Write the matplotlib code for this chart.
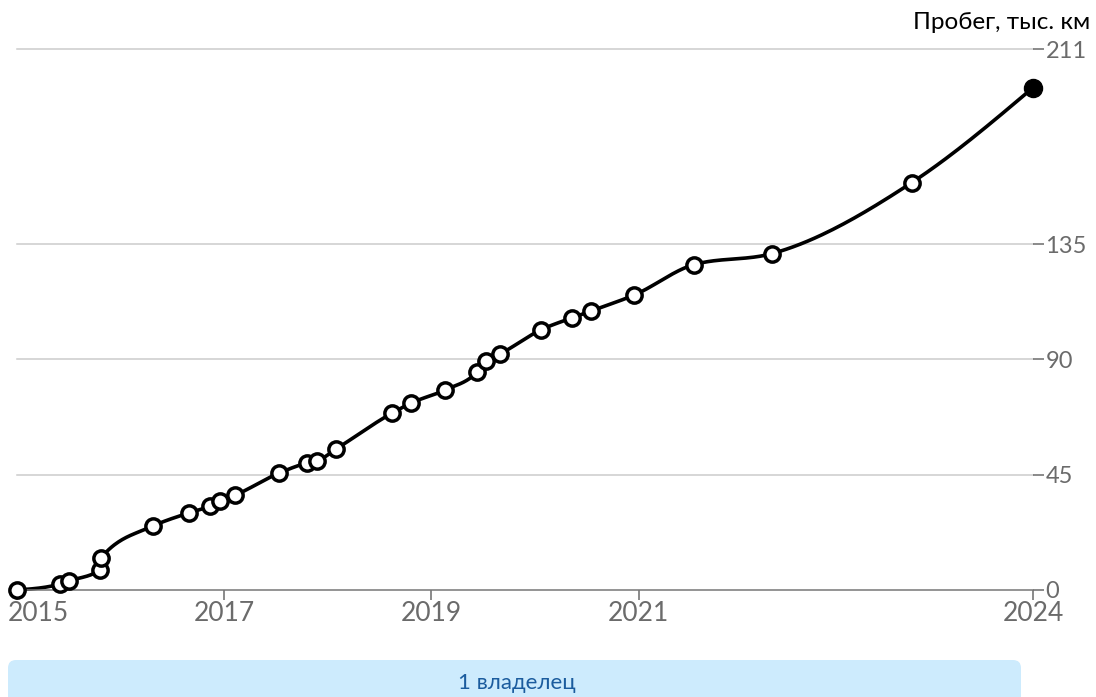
import matplotlib.pyplot as plt
import matplotlib.dates as mdates
import numpy as np
from matplotlib.patches import FancyBboxPatch
from matplotlib.transforms import IdentityTransform, ScaledTranslation

FONT = ['Lato', 'DejaVu Sans']

# mileage history, thousand km
dates = ['2015-01-01', '2015-06-01', '2015-07-02', '2015-10-20', '2015-10-24',
         '2016-04-25', '2016-08-29', '2016-11-12', '2016-12-17', '2017-02-09',
         '2017-07-14', '2017-10-21', '2017-11-25', '2018-01-31', '2018-08-16',
         '2018-10-22', '2019-02-19', '2019-06-12', '2019-07-14', '2019-09-01',
         '2020-01-23', '2020-05-12', '2020-07-18', '2020-12-17', '2021-07-14',
         '2022-04-15', '2023-08-21', '2024-10-22']
mileage = [0.0, 2.3, 3.5, 7.8, 12.5,
           25.0, 30.1, 32.8, 34.8, 37.1,
           45.7, 49.6, 50.4, 55.1, 69.1,
           73.0, 78.1, 85.2, 89.5, 92.2,
           101.6, 106.3, 109.0, 115.2, 127.0,
           131.3, 159.0, 196.1]

y_ticks = [0, 45, 90, 135, 211]
x_tick_dates = ['2015-01-01', '2017-01-01', '2019-01-01', '2021-01-01', '2024-10-22']
x_tick_labels = ['2015', '2017', '2019', '2021', '2024']

owner_label = '1 владелец'
y_title = 'Пробег, тыс. км'


def monotone_curve(xs, ys, n=40):
    # same idea as d3.curveMonotoneX
    xs = np.asarray(xs, float)
    ys = np.asarray(ys, float)
    h = np.diff(xs)
    s = np.diff(ys) / h
    t = np.zeros(len(xs))
    for i in range(1, len(xs) - 1):
        p = (s[i - 1] * h[i] + s[i] * h[i - 1]) / (h[i - 1] + h[i])
        t[i] = (np.sign(s[i - 1]) + np.sign(s[i])) * min(abs(s[i - 1]), abs(s[i]), 0.5 * abs(p))
    t[0] = (3 * s[0] - t[1]) / 2
    t[-1] = (3 * s[-1] - t[-2]) / 2
    out_x, out_y = [], []
    for i in range(len(xs) - 1):
        u = np.linspace(0, 1, n)
        h00 = 2 * u**3 - 3 * u**2 + 1
        h10 = u**3 - 2 * u**2 + u
        h01 = -2 * u**3 + 3 * u**2
        h11 = u**3 - u**2
        out_x.extend(xs[i] + u * h[i])
        out_y.extend(h00 * ys[i] + h10 * h[i] * t[i] + h01 * ys[i + 1] + h11 * h[i] * t[i + 1])
    return np.array(out_x), np.array(out_y)


x = mdates.datestr2num(dates)
y = np.array(mileage)

fig = plt.figure(figsize=(10.96, 6.97), dpi=100)
W, H = 1096, 697
left, right, bottom, top = 17, 1033, 590, 49.5
ax = fig.add_axes([left / W, 1 - bottom / H, (right - left) / W, (bottom - top) / H])
ax.set_xlim(x[0], x[-1])
ax.set_ylim(0, 211)

for v in y_ticks[1:]:
    ax.axhline(v, color='#cccccc', lw=1.1, zorder=0, clip_on=False)

cx, cy = monotone_curve(x, y)
ax.plot(cx, cy, color='black', lw=2.6, zorder=2, clip_on=False)
ax.plot(x[:-1], y[:-1], 'o', ms=11, mfc='white', mec='black', mew=2.5, zorder=3, clip_on=False)
ax.plot(x[-1:], y[-1:], 'o', ms=13, mfc='black', mec='black', zorder=3, clip_on=False)

for side in ['top', 'left', 'right']:
    ax.spines[side].set_visible(False)
ax.spines['bottom'].set_color('#777777')
ax.spines['bottom'].set_linewidth(1.1)

ax.set_xticks(mdates.datestr2num(x_tick_dates))
ax.set_xticklabels(x_tick_labels, fontfamily=FONT)
ax.set_yticks(y_ticks)
ax.set_yticklabels([str(v) for v in y_ticks], fontfamily=FONT)
ax.tick_params(axis='x', colors='#6b6b6b', labelsize=19, length=7, width=1.1, pad=1)
ax.tick_params(axis='y', colors='#6b6b6b', labelsize=17, length=8, width=1.1, pad=1,
               left=False, labelleft=False, right=True, labelright=True)

# first year label is kept inside the figure
first = ax.get_xticklabels()[0]
first.set_horizontalalignment('left')
first.set_transform(first.get_transform() + ScaledTranslation(-9 / 100, 0, fig.dpi_scale_trans))

fig.text(1090 / W, 1 - 29 / H, y_title, ha='right', va='baseline',
         fontsize=17.5, color='black', fontfamily=FONT)

box = FancyBboxPatch((8, -30), 1013, 67, boxstyle='round,pad=0,rounding_size=8',
                     transform=IdentityTransform(), facecolor='#cdebfd', edgecolor='none')
fig.patches.append(box)
fig.text(517 / W, 1 - 683 / H, owner_label, ha='center', va='center',
         fontsize=16, color='#1b5c9e', fontfamily=FONT)

fig.savefig('out.png', dpi=100)
